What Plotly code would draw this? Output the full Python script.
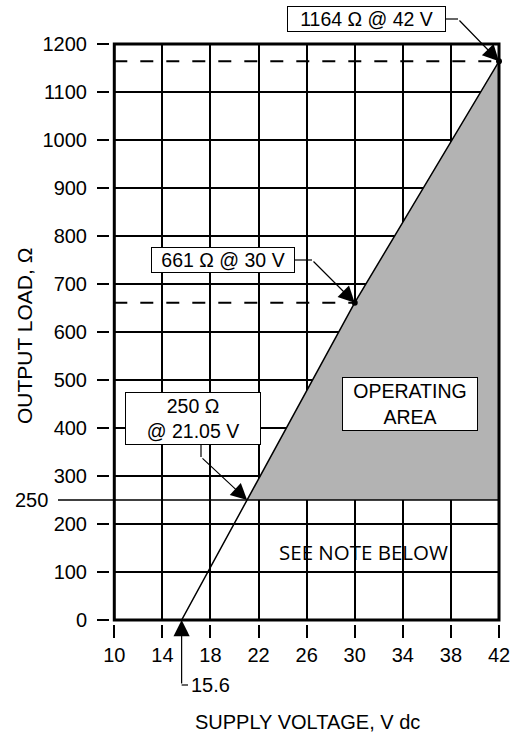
import plotly.graph_objects as go

# ---------------- data ----------------
supply_voltage = [15.6, 21.05, 30, 42]          # V dc, along the load line
output_load = [0, 250, 661, 1164]               # ohms
min_load = 250                                  # lower limit of operating area
area_voltage = [21.05, 30, 42, 42]
area_load = [250, 661, 1164, 250]
marked_voltage = [30, 42]
marked_load = [661, 1164]
x_ticks = [10, 14, 18, 22, 26, 30, 34, 38, 42]
y_ticks = [0, 100, 200, 300, 400, 500, 600, 700, 800, 900, 1000, 1100, 1200]
x_title = "SUPPLY VOLTAGE, V dc"
y_title = "OUTPUT LOAD, Ω"

# ---------------- geometry helpers ----------------
W, H = 513, 732
PL, PR, PT, PB = 114.3, 499.0, 44.0, 620.0      # plot area in pixels
XR = [10, 42]
YR = [0, 1200]


def fx(px):
    return px / W


def fy(py):
    return 1 - py / H


def dpx(v):
    return PL + (v - XR[0]) / (XR[1] - XR[0]) * (PR - PL)


def dpy(v):
    return PB - (v - YR[0]) / (YR[1] - YR[0]) * (PB - PT)


FONT = "Liberation Sans, Arial, Helvetica, sans-serif"
fig = go.Figure()

# operating area
fig.add_trace(go.Scatter(x=area_voltage, y=area_load, fill="toself",
                         fillcolor="#b3b3b3", line=dict(width=0),
                         mode="lines", hoverinfo="skip", showlegend=False))
# load line
fig.add_trace(go.Scatter(x=supply_voltage, y=output_load, mode="lines",
                         line=dict(color="black", width=1.5),
                         hoverinfo="skip", showlegend=False))
# marked points
fig.add_trace(go.Scatter(x=marked_voltage, y=marked_load, mode="markers",
                         marker=dict(color="black", size=6),
                         hoverinfo="skip", showlegend=False, cliponaxis=False))

shapes = []
# dashed limit lines
for v, r in zip(marked_voltage, marked_load):
    shapes.append(dict(type="line", xref="x", yref="y", x0=XR[0], x1=v, y0=r, y1=r,
                       line=dict(color="black", width=2, dash="13px,13px"), layer="above"))
# 250 ohm line extending left of the plot
shapes.append(dict(type="line", xref="paper", yref="y", x0=fx(58), x1=fx(PR),
                   y0=min_load, y1=min_load, line=dict(color="black", width=1.3), layer="above"))
# plot border
shapes.append(dict(type="rect", xref="x domain", yref="y domain", x0=0, x1=1, y0=0, y1=1,
                   line=dict(color="black", width=3), layer="above"))

annotations = []


def box(text, cx, cy, w, h):
    annotations.append(dict(text=text, xref="paper", yref="paper", x=fx(cx), y=fy(cy),
                            xanchor="center", yanchor="middle", showarrow=False,
                            width=w, height=h, borderpad=1, borderwidth=1,
                            bordercolor="black", bgcolor="white",
                            font=dict(family=FONT, size=19.5, color="black")))


def seg(x0, y0, x1, y1):
    shapes.append(dict(type="line", xref="paper", yref="paper", x0=fx(x0), y0=fy(y0),
                       x1=fx(x1), y1=fy(y1), line=dict(color="black", width=1.2)))


def arrow(v, r, tx, ty):
    annotations.append(dict(text="", x=v, y=r, xref="x", yref="y",
                            ax=tx - dpx(v), ay=ty - dpy(r), axref="pixel", ayref="pixel",
                            showarrow=True, arrowhead=2, arrowsize=2.7, arrowwidth=1.2,
                            arrowcolor="black", standoff=0))


# 1164 @ 42
box("1164 Ω @ 42 V", 366, 19, 155, 22)
seg(444, 19, 458, 19)
arrow(42, 1164, 458, 19)
# 661 @ 30
box("661 Ω @ 30 V", 222.5, 260, 140, 22)
seg(293, 260, 312, 260)
arrow(30, 661, 312, 260)
# 250 @ 21.05
box("250 Ω<br>@ 21.05 V", 193, 418.5, 132, 49)
seg(201, 445, 201, 457)
arrow(21.05, 250, 201, 457)
# operating area
box("OPERATING<br>AREA", 410, 404, 132, 50)
# 15.6 V
arrow(15.6, 0, dpx(15.6), 685)
seg(dpx(15.6), 685, 188, 685)
annotations.append(dict(text="15.6", xref="paper", yref="paper", x=fx(189), y=fy(685),
                        xanchor="left", yanchor="middle", showarrow=False,
                        font=dict(family=FONT, size=20, color="black")))
# 250 label
annotations.append(dict(text="250", xref="paper", yref="y", x=fx(50), y=min_load,
                        xanchor="right", yanchor="middle", showarrow=False,
                        font=dict(family=FONT, size=20, color="black")))
# note
annotations.append(dict(text="SEE NOTE BELOW", xref="paper", yref="paper", x=fx(363), y=fy(552),
                        xanchor="center", yanchor="middle", showarrow=False,
                        font=dict(family="Open Sans, sans-serif", size=20.5, color="black")))
# axis titles
annotations.append(dict(text=x_title, xref="paper", yref="paper", x=fx(307), y=fy(722),
                        xanchor="center", yanchor="middle", showarrow=False,
                        font=dict(family=FONT, size=20, color="black")))
annotations.append(dict(text=y_title, xref="paper", yref="paper", x=fx(24), y=fy(336),
                        xanchor="center", yanchor="middle", showarrow=False, textangle=-90,
                        font=dict(family=FONT, size=21, color="black")))

fig.update_layout(
    width=W, height=H, margin=dict(l=0, r=0, t=0, b=0),
    paper_bgcolor="white", plot_bgcolor="white",
    shapes=shapes, annotations=annotations, showlegend=False,
    xaxis=dict(range=XR, domain=[fx(PL), fx(PR)], anchor="free", position=fy(624),
               tickmode="array", tickvals=x_ticks, ticktext=[str(t) for t in x_ticks],
               ticks="outside", ticklen=13, tickwidth=1.5, tickcolor="black",
               showgrid=True, gridcolor="black", gridwidth=1.5, zeroline=False,
               showline=False, tickfont=dict(family=FONT, size=20, color="black"),
               fixedrange=True, automargin=False),
    yaxis=dict(range=YR, domain=[fy(PB), fy(PT)], anchor="free", position=fx(109),
               tickmode="array", tickvals=y_ticks, ticktext=[str(t) for t in y_ticks],
               ticks="outside", ticklen=12, tickwidth=1.5, tickcolor="black",
               ticklabelstandoff=6,
               showgrid=True, gridcolor="black", gridwidth=1.5, zeroline=False,
               showline=False, tickfont=dict(family=FONT, size=20, color="black"),
               fixedrange=True, automargin=False),
)

fig.write_html("out.html", config={"displayModeBar": False},
               post_script="document.body.style.margin='0px';document.body.style.overflow='hidden';")
